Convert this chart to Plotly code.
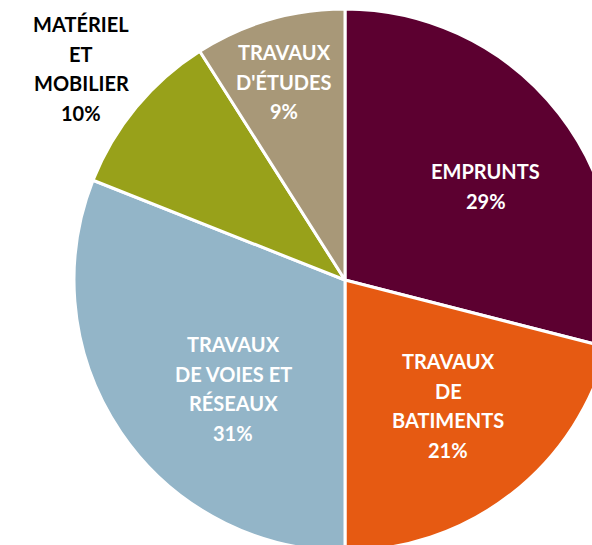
import math
import plotly.graph_objects as go

# ---- data ----
categories = ["EMPRUNTS", "TRAVAUX DE BATIMENTS", "TRAVAUX DE VOIES ET RÉSEAUX",
              "MATÉRIEL ET MOBILIER", "TRAVAUX D'ÉTUDES"]
values = [29, 21, 31, 10, 9]
label_lines = [["EMPRUNTS"], ["TRAVAUX", "DE", "BATIMENTS"],
               ["TRAVAUX", "DE VOIES ET", "RÉSEAUX"], ["MATÉRIEL", "ET", "MOBILIER"],
               ["TRAVAUX", "D'ÉTUDES"]]
colors = ["#5C0030", "#E65A12", "#93B5C8", "#98A11A", "#A89878"]

# ---- layout/style ----
W, H = 620, 555
cx, cy, R = 345, 280, 271
label_frac = [0.624, 0.599, 0.575, 1.248, 0.765]
label_dang = [4.0, -1.6, -9.9, -0.9, -0.9]
label_color = ["white", "white", "white", "black", "white"]
line_gap = 29.5
font_family = "Lato, Carlito, Calibri, sans-serif"
font_size = 20

fig = go.Figure(go.Pie(
    labels=categories, values=values, sort=False, direction="clockwise", rotation=0,
    marker=dict(colors=colors, line=dict(color="white", width=3)),
    textinfo="none", hoverinfo="label+percent", showlegend=False,
    domain=dict(x=[(cx - R) / W, (cx + R) / W], y=[1 - (cy + R) / H, 1 - (cy - R) / H]),
))

total = sum(values)
cum = 0
annotations = []
for i, v in enumerate(values):
    mid = (cum + v / 2) / total * 360 + label_dang[i]
    cum += v
    px = cx + label_frac[i] * R * math.sin(math.radians(mid))
    py = cy - label_frac[i] * R * math.cos(math.radians(mid))
    lines = label_lines[i] + [f"{round(v / total * 100)}%"]
    n = len(lines)
    for j, t in enumerate(lines):
        ly = py + (j - (n - 1) / 2) * line_gap
        annotations.append(dict(
            x=px / W, y=1 - ly / H, xref="paper", yref="paper", text=t, showarrow=False,
            xanchor="center", yanchor="middle",
            font=dict(family=font_family, size=font_size, color=label_color[i], weight="bold"),
        ))

fig.update_layout(
    width=W, height=H, margin=dict(l=0, r=0, t=0, b=0),
    paper_bgcolor="white", plot_bgcolor="white", annotations=annotations,
)

fig.write_html("out.html", config={"displayModeBar": False}, post_script=(
    "document.body.style.margin='0';document.body.style.overflow='hidden';"
    "document.documentElement.style.overflow='hidden';"))
